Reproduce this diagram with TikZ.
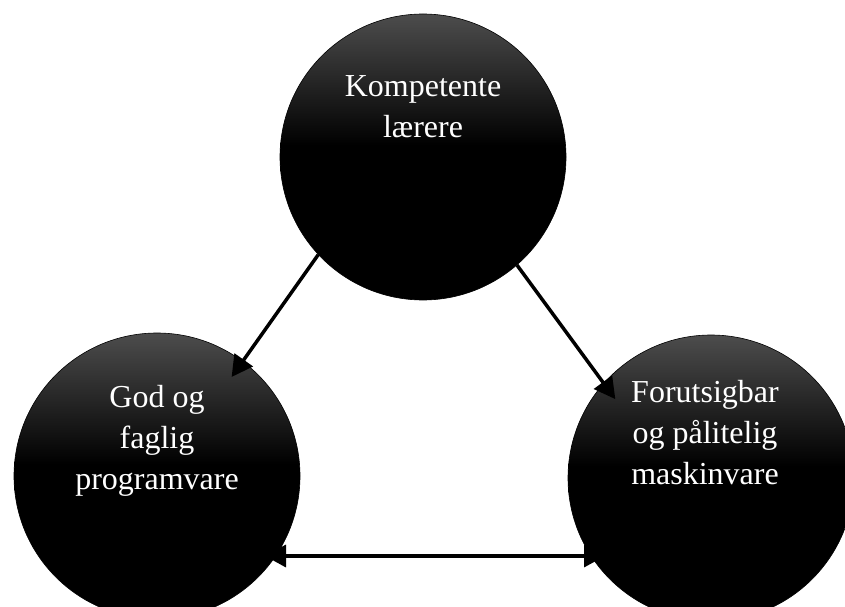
\documentclass[tikz,border=0pt]{standalone}
\usepackage{fontspec}
\setmainfont{Liberation Serif}
\usetikzlibrary{arrows.meta}

\pgfdeclareverticalshading{ballshade}{100bp}{color(0bp)=(black); color(52bp)=(black); color(75bp)=(black!70); color(100bp)=(black!70)}

\begin{document}
\begin{tikzpicture}[x=1pt, y=1pt, >={Triangle[length=21pt,width=22pt]}, line width=3.5pt,
	ball/.style={circle, draw=black, line width=0.6pt, minimum size=286pt, shading=ballshade},
	caption/.style={text=white, align=center, font=\fontsize{32}{41}\selectfont}]
	
	\useasboundingbox (0,0) rectangle (845,606);
	
	\node[ball] (laerer) at (423,449) {};
	\node[ball] (program) at (157,130) {};
	\node[ball] (maskin) at (711,128) {};
	
	\node[caption] (laerer text) at ([yshift=50pt]laerer.center) {Kompetente\\lærere};
	\node[caption] (program text) at ([yshift=35pt]program.center) {God og\\faglig\\programvare};
	\node[caption] (maskin text) at ([xshift=-6pt,yshift=45pt]maskin.center) {Forutsigbar\\og pålitelig\\maskinvare};
	
	\draw[->] (laerer.223) -- ([shift={(53:124pt)}]program.center);
	\draw[->] (laerer.311) -- ([shift={(140.5:124pt)}]maskin.center);
	\draw[<->] ([shift={(108pt,-80pt)}]program.center) -- ([shift={(-106pt,-78pt)}]maskin.center);
	
\end{tikzpicture}
\end{document}
